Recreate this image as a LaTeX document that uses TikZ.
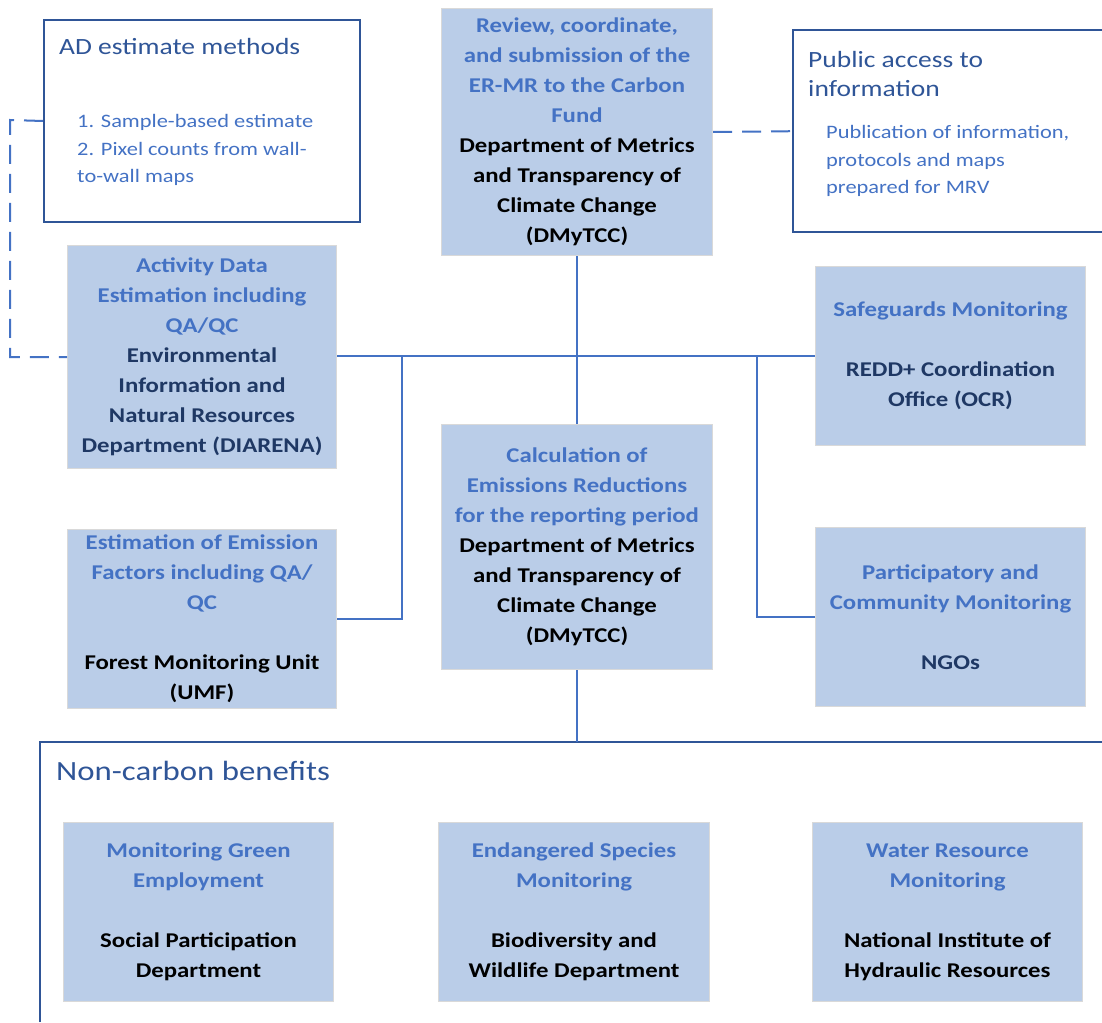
\documentclass[tikz,border=0pt]{standalone}
\usepackage{fontspec}
\setmainfont{Carlito}[FakeStretch=1.18]
\definecolor{acc}{HTML}{4472C4}
\definecolor{navy}{HTML}{1F3864}
\definecolor{frame}{HTML}{2F5597}
\definecolor{fillb}{HTML}{BACDE8}
\newcommand{\boxfont}{\bfseries\fontsize{21}{30}\selectfont}
\newcommand{\headfont}{\fontsize{23.3}{30}\selectfont}
\newcommand{\itemfont}{\fontsize{19}{27}\selectfont}
\newcommand{\task}[1]{\textcolor{acc}{#1}}
\begin{document}
\begin{tikzpicture}[x=1pt,y=-1pt,
  unit/.style={draw=gray!30, line width=1pt, fill=fillb, anchor=north west,
    align=center, text=black, inner sep=0pt, font=\boxfont},
  panel/.style={draw=frame, line width=2pt},
  label/.style={anchor=base west, inner sep=0pt},
  link/.style={draw=acc, line width=2pt},
  dlink/.style={draw=acc, line width=2pt, dash pattern=on 19pt off 10pt},
]
\useasboundingbox (0,0) rectangle (1102,1022);

% side panels with explanatory lists
\node[panel, anchor=north west, minimum width=316pt, minimum height=202pt, inner sep=0pt] (ad) at (43,19) {};
\node[label, text=frame, font=\headfont] (adt) at (59,55) {AD estimate methods};
\node[label, text=acc, font=\itemfont] (ad1) at (77,128) {1. Sample-based estimate};
\node[label, text=acc, font=\itemfont] (ad2) at (77,155) {2. Pixel counts from wall-};
\node[label, text=acc, font=\itemfont] (ad3) at (77,182) {to-wall maps};

\node[anchor=north west, minimum width=309pt, minimum height=202pt, inner sep=0pt] (pub) at (793,30) {};
\draw[panel] (pub.north east) -- (pub.north west) -- (pub.south west) -- (pub.south east);
\node[label, text=frame, font=\headfont] (pubt1) at (808,68) {Public access to};
\node[label, text=frame, font=\headfont] (pubt2) at (808,97) {information};
\node[label, text=acc, font=\itemfont] (pub1) at (826,139) {Publication of information,};
\node[label, text=acc, font=\itemfont] (pub2) at (826,166) {protocols and maps};
\node[label, text=acc, font=\itemfont] (pub3) at (826,193) {prepared for MRV};

% MRV units
\node[unit, minimum width=271pt, minimum height=247pt] (top) at (441,8)
  {\task{Review, coordinate,}\\\task{and submission of the}\\\task{ER-MR to the Carbon}\\\task{Fund}\\Department of Metrics\\and Transparency of\\Climate Change\\(DMyTCC)};
\node[unit, text=navy, minimum width=269pt, minimum height=223pt] (act) at (67,245)
  {\task{Activity Data}\\\task{Estimation including}\\\task{QA/QC}\\Environmental\\Information and\\Natural Resources\\Department (DIARENA)};
\node[unit, text=navy, minimum width=270pt, minimum height=179pt] (saf) at (815,266)
  {\task{Safeguards Monitoring}\\[30pt]REDD+ Coordination\\Office (OCR)};
\node[unit, minimum width=269pt, minimum height=179pt] (emf) at (67,529)
  {\task{Estimation of Emission}\\\task{Factors including QA/}\\\task{QC}\\[30pt]Forest Monitoring Unit\\(UMF)};
\node[unit, minimum width=271pt, minimum height=245pt] (calc) at (441,424)
  {\task{Calculation of}\\\task{Emissions Reductions}\\\task{for the reporting period}\\Department of Metrics\\and Transparency of\\Climate Change\\(DMyTCC)};
\node[unit, text=navy, minimum width=270pt, minimum height=179pt] (par) at (815,527)
  {\task{Participatory and}\\\task{Community Monitoring}\\[30pt]NGOs};

% non-carbon benefits group
\coordinate (frcorner) at (40,742);
\coordinate (frright) at (1102,742);
\coordinate (frbottom) at (40,1022);
\draw[panel] (frbottom) -- (frcorner) -- (frright);
\node[label, text=frame, font=\fontsize{27.8}{32}\selectfont] (nct) at (56,780) {Non-carbon benefits};
\node[unit, minimum width=270pt, minimum height=179pt] (b1) at (63,822)
  {\task{Monitoring Green}\\\task{Employment}\\[30pt]Social Participation\\Department};
\node[unit, minimum width=271pt, minimum height=179pt] (b2) at (438,822)
  {\task{Endangered Species}\\\task{Monitoring}\\[30pt]Biodiversity and\\Wildlife Department};
\node[unit, minimum width=270pt, minimum height=179pt] (b3) at (812,822)
  {\task{Water Resource}\\\task{Monitoring}\\[30pt]National Institute of\\Hydraulic Resources};

% connectors
\coordinate (hub) at (577,356);
\coordinate (jl) at (402,356);
\coordinate (jr) at (757,356);
\coordinate (dl) at (10,120);
\draw[link] (top.south) -- (calc.north);
\draw[link] (act.east |- hub) -- (saf.west |- hub);
\draw[link] (emf.east) -| (jl);
\draw[link] (par.west) -| (jr);
\draw[link, line width=1.5pt] (calc.south) -- (calc.south |- frcorner);
\draw[dlink] (ad.west) -- (dl) |- (act.west);
\draw[dlink] (top.east) -- (pub.west);
\end{tikzpicture}
\end{document}
